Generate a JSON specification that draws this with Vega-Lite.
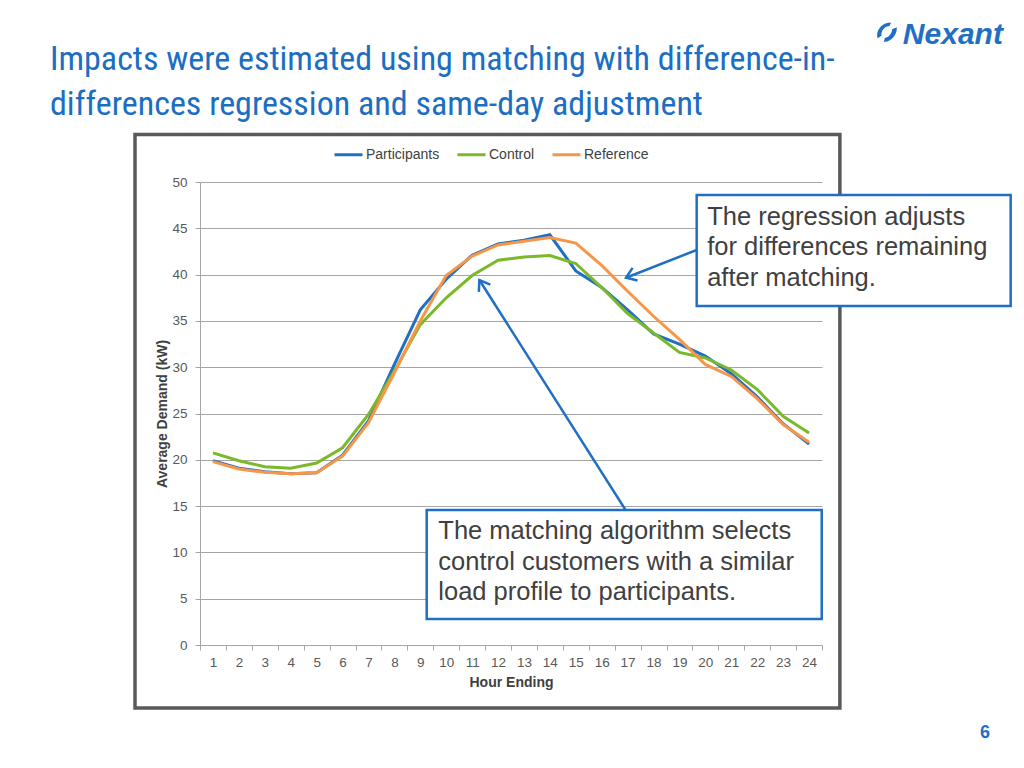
{
  "$schema": "https://vega.github.io/schema/vega-lite/v6.json",
  "width": 622,
  "height": 463,
  "autosize": {"type": "none"},
  "padding": {"left": 200, "top": 182, "right": 202, "bottom": 123},
  "background": "white",
  "title": {
    "text": ["Impacts were estimated using matching with difference-in-", "differences regression and same-day adjustment"],
    "anchor": "start",
    "frame": "group",
    "dx": -150,
    "dy": 102,
    "offset": 0,
    "font": "Liberation Sans Narrow, Roboto Condensed, DejaVu Sans Condensed, sans-serif",
    "fontSize": 34,
    "fontWeight": "normal",
    "color": "#1B6EC2",
    "lineHeight": 45
  },
  "data": {
    "values": [
      {"hour": 1, "series": "Participants", "value": 19.9},
      {"hour": 2, "series": "Participants", "value": 19.1},
      {"hour": 3, "series": "Participants", "value": 18.7},
      {"hour": 4, "series": "Participants", "value": 18.5},
      {"hour": 5, "series": "Participants", "value": 18.6},
      {"hour": 6, "series": "Participants", "value": 20.5},
      {"hour": 7, "series": "Participants", "value": 24.2},
      {"hour": 8, "series": "Participants", "value": 30.3},
      {"hour": 9, "series": "Participants", "value": 36.2},
      {"hour": 10, "series": "Participants", "value": 39.5},
      {"hour": 11, "series": "Participants", "value": 42.1},
      {"hour": 12, "series": "Participants", "value": 43.3},
      {"hour": 13, "series": "Participants", "value": 43.7},
      {"hour": 14, "series": "Participants", "value": 44.3},
      {"hour": 15, "series": "Participants", "value": 40.4},
      {"hour": 16, "series": "Participants", "value": 38.6},
      {"hour": 17, "series": "Participants", "value": 36.2},
      {"hour": 18, "series": "Participants", "value": 33.6},
      {"hour": 19, "series": "Participants", "value": 32.5},
      {"hour": 20, "series": "Participants", "value": 31.2},
      {"hour": 21, "series": "Participants", "value": 29.3},
      {"hour": 22, "series": "Participants", "value": 26.8},
      {"hour": 23, "series": "Participants", "value": 23.9},
      {"hour": 24, "series": "Participants", "value": 21.7},
      {"hour": 1, "series": "Control", "value": 20.75},
      {"hour": 2, "series": "Control", "value": 19.9},
      {"hour": 3, "series": "Control", "value": 19.25},
      {"hour": 4, "series": "Control", "value": 19.1},
      {"hour": 5, "series": "Control", "value": 19.65},
      {"hour": 6, "series": "Control", "value": 21.3},
      {"hour": 7, "series": "Control", "value": 24.9},
      {"hour": 8, "series": "Control", "value": 29.6},
      {"hour": 9, "series": "Control", "value": 34.6},
      {"hour": 10, "series": "Control", "value": 37.5},
      {"hour": 11, "series": "Control", "value": 39.9},
      {"hour": 12, "series": "Control", "value": 41.55},
      {"hour": 13, "series": "Control", "value": 41.9},
      {"hour": 14, "series": "Control", "value": 42.05},
      {"hour": 15, "series": "Control", "value": 41.2},
      {"hour": 16, "series": "Control", "value": 38.6},
      {"hour": 17, "series": "Control", "value": 35.8},
      {"hour": 18, "series": "Control", "value": 33.7},
      {"hour": 19, "series": "Control", "value": 31.6},
      {"hour": 20, "series": "Control", "value": 31.0},
      {"hour": 21, "series": "Control", "value": 29.7},
      {"hour": 22, "series": "Control", "value": 27.6},
      {"hour": 23, "series": "Control", "value": 24.7},
      {"hour": 24, "series": "Control", "value": 22.9},
      {"hour": 1, "series": "Reference", "value": 19.8},
      {"hour": 2, "series": "Reference", "value": 19.0},
      {"hour": 3, "series": "Reference", "value": 18.65},
      {"hour": 4, "series": "Reference", "value": 18.5},
      {"hour": 5, "series": "Reference", "value": 18.6},
      {"hour": 6, "series": "Reference", "value": 20.4},
      {"hour": 7, "series": "Reference", "value": 24.0},
      {"hour": 8, "series": "Reference", "value": 29.4},
      {"hour": 9, "series": "Reference", "value": 35.0},
      {"hour": 10, "series": "Reference", "value": 39.9},
      {"hour": 11, "series": "Reference", "value": 42.0},
      {"hour": 12, "series": "Reference", "value": 43.2},
      {"hour": 13, "series": "Reference", "value": 43.6},
      {"hour": 14, "series": "Reference", "value": 44.0},
      {"hour": 15, "series": "Reference", "value": 43.4},
      {"hour": 16, "series": "Reference", "value": 41.0},
      {"hour": 17, "series": "Reference", "value": 38.2},
      {"hour": 18, "series": "Reference", "value": 35.5},
      {"hour": 19, "series": "Reference", "value": 33.0},
      {"hour": 20, "series": "Reference", "value": 30.3},
      {"hour": 21, "series": "Reference", "value": 29.0},
      {"hour": 22, "series": "Reference", "value": 26.6},
      {"hour": 23, "series": "Reference", "value": 23.8},
      {"hour": 24, "series": "Reference", "value": 21.9}
    ]
  },
  "resolve": {"scale": {"x": "independent"}},
  "layer": [
    {
      "data": {"values": [{}]},
      "mark": {"type": "rect", "fillOpacity": 0, "stroke": "#595959", "strokeWidth": 3.5},
      "encoding": {
        "x": {"datum": -2.008, "type": "quantitative", "scale": {"domain": [0.5, 24.5], "nice": false, "zero": false}, "axis": null},
        "x2": {"datum": 25.19},
        "y": {"datum": 55.13, "type": "quantitative", "scale": {"domain": [0, 50]}},
        "y2": {"datum": -6.8}
      }
    },
    {
      "mark": {"type": "line", "strokeWidth": 3},
      "encoding": {
        "x": {
          "field": "hour", "type": "ordinal", "bandPosition": 0.5,
          "scale": {"type": "band", "paddingInner": 0, "paddingOuter": 0},
          "axis": {"title": "Hour Ending", "labelAngle": 0, "tickBand": "extent", "tickSize": 5, "labelPadding": 5, "titlePadding": 7}
        },
        "y": {
          "field": "value", "type": "quantitative",
          "scale": {"domain": [0, 50]},
          "axis": {"title": "Average Demand (kW)", "values": [0, 5, 10, 15, 20, 25, 30, 35, 40, 45, 50], "tickSize": 5, "labelPadding": 8, "titlePadding": 2, "grid": true}
        },
        "color": {
          "field": "series", "type": "nominal",
          "scale": {"domain": ["Participants", "Control", "Reference"], "range": ["#1F6FC5", "#7AB929", "#F79646"]},
          "legend": {
            "orient": "none", "legendX": 133, "legendY": -43, "direction": "horizontal", "title": null,
            "symbolType": "stroke", "symbolStrokeWidth": 3, "symbolSize": 784,
            "labelFontSize": 14, "labelColor": "#404040", "labelOffset": 2, "columnPadding": 11, "padding": 0
          }
        }
      }
    },
    {
      "data": {"values": [{}]},
      "mark": {"type": "rule", "color": "#1F6FC5", "strokeWidth": 2.5},
      "encoding": {
        "x": {"datum": 19.665, "type": "quantitative", "scale": {"domain": [0.5, 24.5], "nice": false, "zero": false}, "axis": null},
        "x2": {"datum": 16.937},
        "y": {"datum": 42.66, "type": "quantitative", "scale": {"domain": [0, 50]}},
        "y2": {"datum": 39.66}
      }
    },
    {
      "data": {"values": [{}]},
      "mark": {"type": "point", "shape": "M -1 -0.7 L 0 0 L -1 0.7", "filled": false, "stroke": "#1F6FC5", "strokeWidth": 2.5, "size": 380, "angle": 158.6, "opacity": 1},
      "encoding": {
        "x": {"datum": 16.937, "type": "quantitative", "scale": {"domain": [0.5, 24.5], "nice": false, "zero": false}, "axis": null},
        "y": {"datum": 39.66, "type": "quantitative", "scale": {"domain": [0, 50]}}
      }
    },
    {
      "data": {"values": [{}]},
      "mark": {"type": "rule", "color": "#1F6FC5", "strokeWidth": 2.5},
      "encoding": {
        "x": {"datum": 16.92, "type": "quantitative", "scale": {"domain": [0.5, 24.5], "nice": false, "zero": false}, "axis": null},
        "x2": {"datum": 11.28},
        "y": {"datum": 14.58, "type": "quantitative", "scale": {"domain": [0, 50]}},
        "y2": {"datum": 39.42}
      }
    },
    {
      "data": {"values": [{}]},
      "mark": {"type": "point", "shape": "M -1 -0.7 L 0 0 L -1 0.7", "filled": false, "stroke": "#1F6FC5", "strokeWidth": 2.5, "size": 380, "angle": 237.55, "opacity": 1},
      "encoding": {
        "x": {"datum": 11.28, "type": "quantitative", "scale": {"domain": [0.5, 24.5], "nice": false, "zero": false}, "axis": null},
        "y": {"datum": 39.42, "type": "quantitative", "scale": {"domain": [0, 50]}}
      }
    },
    {
      "data": {"values": [{}]},
      "mark": {"type": "rect", "fill": "white", "stroke": "#1F6FC5", "strokeWidth": 2.5},
      "encoding": {
        "x": {"datum": 19.665, "type": "quantitative", "scale": {"domain": [0.5, 24.5], "nice": false, "zero": false}, "axis": null},
        "x2": {"datum": 31.78},
        "y": {"datum": 48.6, "type": "quantitative", "scale": {"domain": [0, 50]}},
        "y2": {"datum": 36.61}
      }
    },
    {
      "data": {"values": [{}]},
      "mark": {"type": "text", "align": "left", "baseline": "alphabetic", "fontSize": 25.5, "lineHeight": 30.5, "color": "#404040",
        "text": ["The regression adjusts", "for differences remaining", "after matching."]},
      "encoding": {
        "x": {"datum": 20.07, "type": "quantitative", "scale": {"domain": [0.5, 24.5], "nice": false, "zero": false}, "axis": null},
        "y": {"datum": 45.36, "type": "quantitative", "scale": {"domain": [0, 50]}}
      }
    },
    {
      "data": {"values": [{}]},
      "mark": {"type": "rect", "fill": "white", "stroke": "#1F6FC5", "strokeWidth": 2.5},
      "encoding": {
        "x": {"datum": 9.247, "type": "quantitative", "scale": {"domain": [0.5, 24.5], "nice": false, "zero": false}, "axis": null},
        "x2": {"datum": 24.49},
        "y": {"datum": 14.58, "type": "quantitative", "scale": {"domain": [0, 50]}},
        "y2": {"datum": 2.81}
      }
    },
    {
      "data": {"values": [{}]},
      "mark": {"type": "text", "align": "left", "baseline": "alphabetic", "fontSize": 25.5, "lineHeight": 30.5, "color": "#404040",
        "text": ["The matching algorithm selects", "control customers with a similar", "load profile to participants."]},
      "encoding": {
        "x": {"datum": 9.695, "type": "quantitative", "scale": {"domain": [0.5, 24.5], "nice": false, "zero": false}, "axis": null},
        "y": {"datum": 11.41, "type": "quantitative", "scale": {"domain": [0, 50]}}
      }
    },
    {
      "data": {"values": [{}]},
      "mark": {"type": "point", "shape": "M -0.1 -1 C -0.9 -0.7 -1.1 0.5 -0.5 1 L -0.3 0.6 C -0.6 0.2 -0.5 -0.4 -0.1 -0.6 Z M 0.2 1 C 0.9 0.7 1 -0.4 0.6 -0.9 L 0.3 -0.5 C 0.5 -0.1 0.4 0.4 0.1 0.6 Z", "filled": true, "color": "#1F6FC5", "size": 400, "opacity": 1, "angle": 30},
      "encoding": {
        "x": {"datum": 27.01, "type": "quantitative", "scale": {"domain": [0.5, 24.5], "nice": false, "zero": false}, "axis": null},
        "y": {"datum": 66.2, "type": "quantitative", "scale": {"domain": [0, 50]}}
      }
    },
    {
      "data": {"values": [{}]},
      "mark": {"type": "text", "align": "left", "baseline": "alphabetic", "fontSize": 30, "fontStyle": "italic", "fontWeight": "bold", "color": "#1F6FC5", "text": "Nexant"},
      "encoding": {
        "x": {"datum": 27.62, "type": "quantitative", "scale": {"domain": [0.5, 24.5], "nice": false, "zero": false}, "axis": null},
        "y": {"datum": 64.9, "type": "quantitative", "scale": {"domain": [0, 50]}}
      }
    },
    {
      "data": {"values": [{}]},
      "mark": {"type": "text", "align": "center", "baseline": "middle", "fontSize": 18, "fontWeight": "bold", "color": "#1F6FC5", "text": "6"},
      "encoding": {
        "x": {"datum": 30.79, "type": "quantitative", "scale": {"domain": [0.5, 24.5], "nice": false, "zero": false}, "axis": null},
        "y": {"datum": -9.5, "type": "quantitative", "scale": {"domain": [0, 50]}}
      }
    }
  ],
  "config": {
    "font": "Liberation Sans, Arial, sans-serif",
    "view": {"stroke": null},
    "axis": {
      "domainColor": "#A6A6A6",
      "tickColor": "#A6A6A6",
      "gridColor": "#A6A6A6",
      "gridWidth": 1,
      "labelFontSize": 13.5,
      "labelColor": "#595959",
      "labelFont": "Liberation Sans, Arial, sans-serif",
      "titleFont": "Liberation Sans, Arial, sans-serif",
      "titleFontSize": 14,
      "titleFontWeight": "bold",
      "titleColor": "#404040"
    }
  }
}
